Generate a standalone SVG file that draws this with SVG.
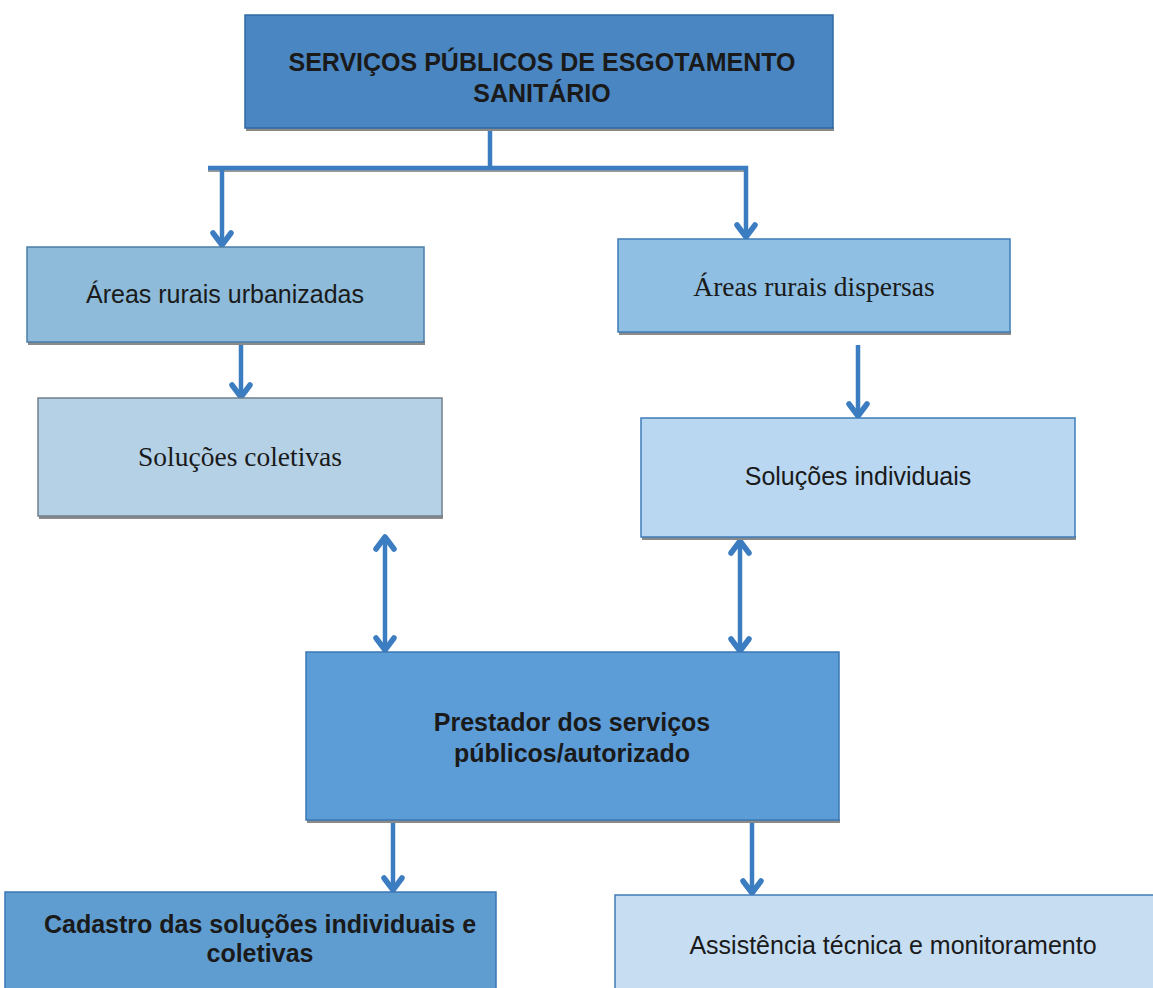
<svg xmlns="http://www.w3.org/2000/svg" width="1153" height="988" viewBox="0 0 1153 988">
<style>
.box{stroke-width:1.5}
.shadow{fill:#8a8a8a}
.t{font-family:"Liberation Sans",Arial,sans-serif;font-size:25px;fill:#1a1a1a;text-anchor:middle}
.b{font-weight:bold}
.s{font-family:"Liberation Serif","Times New Roman",serif;font-size:27.5px;fill:#1a1a1a;text-anchor:middle}
.c{fill:none;stroke:#3b7dc0;stroke-width:4.5}
</style>
<defs>
<marker id="ah" viewBox="0 0 18 24" refX="15" refY="12" markerWidth="18" markerHeight="24" markerUnits="userSpaceOnUse" orient="auto-start-reverse">
<path d="M3,3 L15,12 L3,21" fill="none" stroke="#3b7dc0" stroke-width="5.5" stroke-linecap="round" stroke-linejoin="round"/>
</marker>
</defs>
<rect width="1153" height="988" fill="#ffffff"/>
<g id="connectors">
<line x1="208" y1="171" x2="748" y2="171" stroke="#9a9a9a" stroke-width="2"/>
<path class="c" d="M490,129 V168"/>
<path class="c" d="M208,168 H746 V237" marker-end="url(#ah)"/>
<path class="c" d="M222,168 V245" marker-end="url(#ah)"/>
<path class="c" d="M241,344 V397" marker-end="url(#ah)"/>
<path class="c" d="M858,345 V416" marker-end="url(#ah)"/>
<path class="c" d="M385,537 V650" marker-start="url(#ah)" marker-end="url(#ah)"/>
<path class="c" d="M740,541 V651" marker-start="url(#ah)" marker-end="url(#ah)"/>
<path class="c" d="M393,823 V890" marker-end="url(#ah)"/>
<path class="c" d="M752,823 V893" marker-end="url(#ah)"/>
</g>
<g id="n-top">
<rect class="shadow" x="246" y="127" width="588" height="4"/>
<rect class="box" x="245" y="15" width="588" height="113" fill="#4a86c2" stroke="#2f6aa5"/>
<text class="t b" x="542" y="71">SERVIÇOS PÚBLICOS DE ESGOTAMENTO</text>
<text class="t b" x="542" y="102">SANITÁRIO</text>
</g>
<g id="n-urbanizadas">
<rect class="shadow" x="28" y="341" width="397" height="4"/>
<rect class="box" x="27" y="247" width="397" height="95" fill="#8dbbd9" stroke="#4a7da8"/>
<text class="t" x="225" y="303">Áreas rurais urbanizadas</text>
</g>
<g id="n-dispersas">
<rect class="shadow" x="619" y="331" width="392" height="4"/>
<rect class="box" x="618" y="239" width="392" height="93" fill="#8fbfe2" stroke="#3f7cb8"/>
<text class="s" x="814" y="296">Áreas rurais dispersas</text>
</g>
<g id="n-coletivas">
<rect class="shadow" x="39" y="515" width="404" height="4"/>
<rect class="box" x="38" y="398" width="404" height="118" fill="#b4d1e6" stroke="#6f7f8c"/>
<text class="s" x="240" y="466">Soluções coletivas</text>
</g>
<g id="n-individuais">
<rect class="shadow" x="642" y="536" width="434" height="4"/>
<rect class="box" x="641" y="418" width="434" height="119" fill="#b9d7f1" stroke="#3f7cb8"/>
<text class="t" x="858" y="485">Soluções individuais</text>
</g>
<g id="n-prestador">
<rect class="shadow" x="307" y="819" width="533" height="4"/>
<rect class="box" x="306" y="652" width="533" height="168" fill="#5c9cd7" stroke="#3b78b5"/>
<text class="t b" x="572" y="731">Prestador dos serviços</text>
<text class="t b" x="572" y="762">públicos/autorizado</text>
</g>
<g id="n-cadastro">
<rect class="box" x="5" y="892" width="491" height="100" fill="#5f9dd0" stroke="#3b78b5"/>
<text class="t b" x="260" y="933">Cadastro das soluções individuais e</text>
<text class="t b" x="260" y="962">coletivas</text>
</g>
<g id="n-assistencia">
<rect class="box" x="615" y="895" width="545" height="100" fill="#c6ddf2" stroke="#3f7cb8"/>
<text class="t" x="893" y="954">Assistência técnica e monitoramento</text>
</g>
</svg>
